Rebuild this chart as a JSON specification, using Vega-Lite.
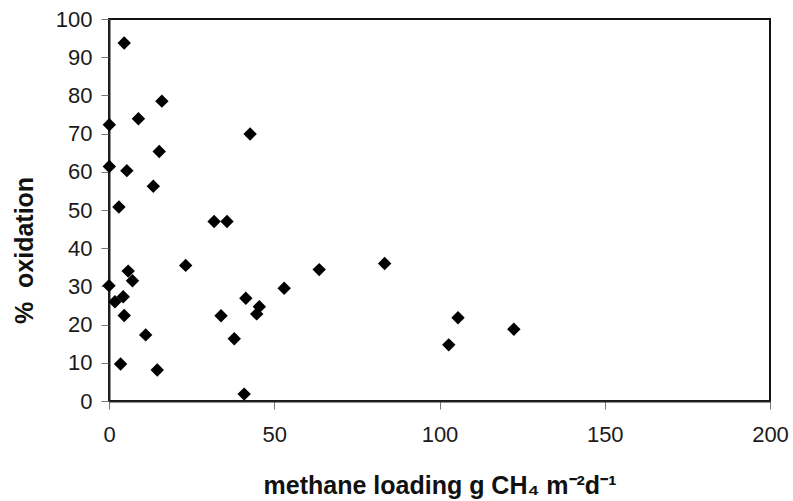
{
  "$schema": "https://vega.github.io/schema/vega-lite/v6.json",
  "width": 661,
  "height": 382,
  "autosize": {"type": "none"},
  "padding": {"left": 109, "top": 19, "right": 23, "bottom": 100},
  "background": "white",
  "config": {
    "view": {"stroke": "#111", "strokeWidth": 2},
    "font": "Liberation Sans"
  },
  "data": {
    "values": [
      {"load": 4.6, "ox": 93.7},
      {"load": 16.0, "ox": 78.5},
      {"load": 8.9, "ox": 73.9},
      {"load": 0.1, "ox": 72.3},
      {"load": 42.7, "ox": 69.9},
      {"load": 15.2, "ox": 65.3},
      {"load": 0.1, "ox": 61.4},
      {"load": 5.4, "ox": 60.3},
      {"load": 13.4, "ox": 56.2},
      {"load": 3.0, "ox": 50.8},
      {"load": 31.8, "ox": 47.0},
      {"load": 35.7, "ox": 47.0},
      {"load": 23.2, "ox": 35.5},
      {"load": 5.8, "ox": 34.0},
      {"load": 7.1, "ox": 31.5},
      {"load": 0.0, "ox": 30.2},
      {"load": 4.3, "ox": 27.3},
      {"load": 1.8, "ox": 26.0},
      {"load": 4.6, "ox": 22.4},
      {"load": 11.1, "ox": 17.3},
      {"load": 3.5, "ox": 9.7},
      {"load": 14.6, "ox": 8.1},
      {"load": 40.9, "ox": 1.8},
      {"load": 33.9, "ox": 22.3},
      {"load": 37.9, "ox": 16.3},
      {"load": 41.4, "ox": 26.9},
      {"load": 45.5, "ox": 24.7},
      {"load": 44.7, "ox": 22.8},
      {"load": 53.0, "ox": 29.5},
      {"load": 63.6, "ox": 34.4},
      {"load": 83.4, "ox": 36.0},
      {"load": 105.6, "ox": 21.8},
      {"load": 102.8, "ox": 14.7},
      {"load": 122.5, "ox": 18.8}
    ]
  },
  "mark": {"type": "point", "shape": "diamond", "filled": true, "color": "#000", "opacity": 1, "size": 180},
  "encoding": {
    "x": {
      "field": "load",
      "type": "quantitative",
      "scale": {"domain": [0, 200], "nice": false, "zero": true},
      "axis": {
        "values": [0, 50, 100, 150, 200],
        "grid": false,
        "domainColor": "#222",
        "domainWidth": 2,
        "tickColor": "#777",
        "tickSize": 8,
        "tickWidth": 1,
        "labelFontSize": 22,
        "labelColor": "#1a1a1a",
        "labelPadding": 15,
        "labelFlush": false,
        "title": "methane loading g CH₄ m⁻²d⁻¹",
        "titleFontSize": 25,
        "titleFontWeight": "bold",
        "titleColor": "#111",
        "titleBaseline": "alphabetic",
        "titleY": 92
      }
    },
    "y": {
      "field": "ox",
      "type": "quantitative",
      "scale": {"domain": [0, 100], "nice": false},
      "axis": {
        "values": [0, 10, 20, 30, 40, 50, 60, 70, 80, 90, 100],
        "grid": false,
        "domainColor": "#222",
        "domainWidth": 2,
        "tickColor": "#777",
        "tickSize": 8,
        "tickWidth": 1,
        "labelFontSize": 22,
        "labelColor": "#1a1a1a",
        "labelPadding": 9,
        "labelFlush": false,
        "title": "% \u00a0oxidation",
        "titleFontSize": 25,
        "titleFontWeight": "bold",
        "titleColor": "#111",
        "titleAngle": -90,
        "titleAlign": "center",
        "titleBaseline": "alphabetic",
        "titleX": -77,
        "titleY": 231
      }
    }
  }
}
